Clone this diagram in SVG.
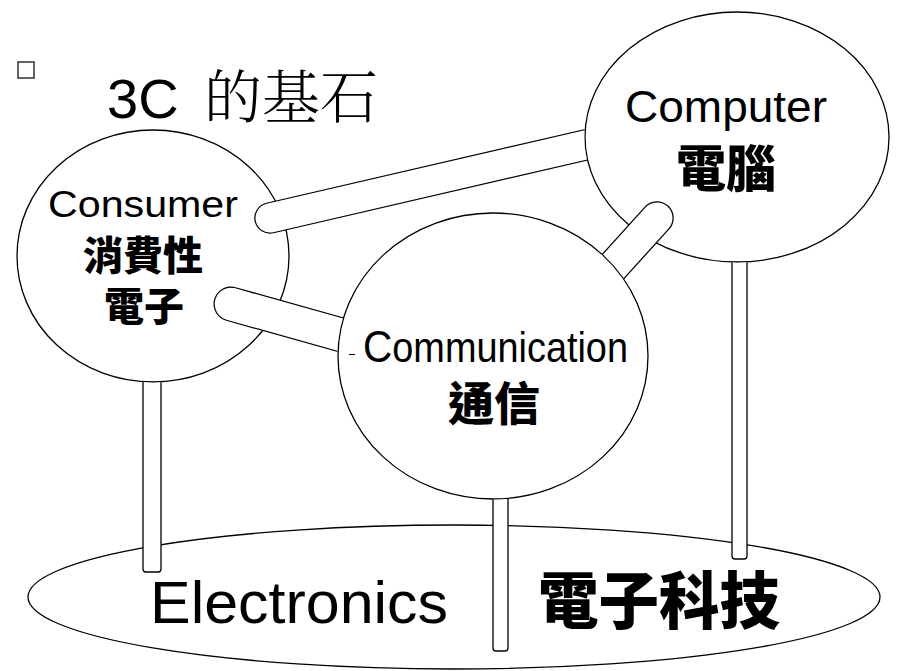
<svg xmlns="http://www.w3.org/2000/svg" width="904" height="671" viewBox="0 0 904 671">
<style>
.shape{fill:#fff;stroke:#000;stroke-width:1.3}
.en{font-family:"Liberation Sans",Arial,sans-serif;fill:#000}
.zh{font-family:"Noto Sans CJK TC","Noto Sans CJK SC",sans-serif;font-weight:900;fill:#000}
</style>
<defs>
<mask id="mConsumer" maskUnits="userSpaceOnUse" x="0" y="0" width="904" height="671">
<rect x="0" y="0" width="904" height="671" fill="#fff"/>
<ellipse cx="153" cy="256" rx="136.7" ry="126.7" fill="#000"/>
</mask>
<mask id="mComputer" maskUnits="userSpaceOnUse" x="0" y="0" width="904" height="671">
<rect x="0" y="0" width="904" height="671" fill="#fff"/>
<ellipse cx="737" cy="137" rx="152.7" ry="125.7" fill="#000"/>
</mask>
<mask id="mComm" maskUnits="userSpaceOnUse" x="0" y="0" width="904" height="671">
<rect x="0" y="0" width="904" height="671" fill="#fff"/>
<ellipse cx="493" cy="356" rx="155.7" ry="143.7" fill="#000"/>
</mask>
</defs>
<rect width="904" height="671" fill="#fff"/>
<g id="title">
<rect x="18" y="62" width="16" height="16" fill="none" stroke="#333" stroke-width="1.5"/>
<text y="118" font-size="56"><tspan class="en" x="107">3C</tspan><tspan x="204" font-size="58" style="font-family:'Noto Serif CJK TC','Noto Sans CJK TC',serif;font-weight:300">的基石</tspan></text>
</g>
<g id="electronics">
<ellipse class="shape" cx="454" cy="597" rx="426" ry="72"/>
<text class="en" x="150" y="623" font-size="60" textLength="298" lengthAdjust="spacingAndGlyphs">Electronics</text>
<text class="zh" x="538" y="624" font-size="62" textLength="242" lengthAdjust="spacingAndGlyphs">電子科技</text>
</g>
<g id="consumer">
<ellipse class="shape" cx="153" cy="256" rx="136" ry="126"/>
<text class="en" x="48" y="217" font-size="36" textLength="190" lengthAdjust="spacingAndGlyphs">Consumer</text>
<text class="zh" x="143" y="270" font-size="40" text-anchor="middle">消費性</text>
<text class="zh" x="144" y="321" font-size="40" text-anchor="middle">電子</text>
</g>
<g id="computer">
<ellipse class="shape" cx="737" cy="137" rx="152" ry="125"/>
<text class="en" x="625" y="122" font-size="44" textLength="202" lengthAdjust="spacingAndGlyphs">Computer</text>
<text class="zh" x="726" y="187" font-size="50" text-anchor="middle">電腦</text>
</g>
<g id="communication">
<ellipse class="shape" cx="493" cy="356" rx="155" ry="143"/>
<text class="en" x="363" y="362" font-size="42" textLength="265" lengthAdjust="spacingAndGlyphs"><tspan font-size="45">C</tspan>ommunication</text>
<text class="zh" x="494" y="420" font-size="46" text-anchor="middle">通信</text>
<line x1="349" y1="354.5" x2="355" y2="354.5" stroke="#000" stroke-width="1"/>
</g>
<g id="connectors" fill="#fff" stroke="#000" stroke-width="1.3" stroke-linecap="round">
<line mask="url(#mComputer)" x1="270" y1="218" x2="620" y2="137" stroke-width="31.5"/>
<line mask="url(#mComputer)" x1="270" y1="218" x2="620" y2="137" stroke="#fff" stroke-width="29"/>
<line mask="url(#mComm)" x1="657" y1="218" x2="590" y2="292" stroke-width="33.5"/>
<line mask="url(#mComm)" x1="657" y1="218" x2="590" y2="292" stroke="#fff" stroke-width="31"/>
<line mask="url(#mComm)" x1="231" y1="304" x2="420" y2="357" stroke-width="35"/>
<line mask="url(#mComm)" x1="231" y1="304" x2="420" y2="357" stroke="#fff" stroke-width="32.5"/>
<rect mask="url(#mConsumer)" x="143" y="360" width="18" height="212" rx="3"/>
<rect mask="url(#mComm)" x="493" y="470" width="15" height="181" rx="3"/>
<rect mask="url(#mComputer)" x="732" y="240" width="15" height="319" rx="3"/>
</g>
</svg>
